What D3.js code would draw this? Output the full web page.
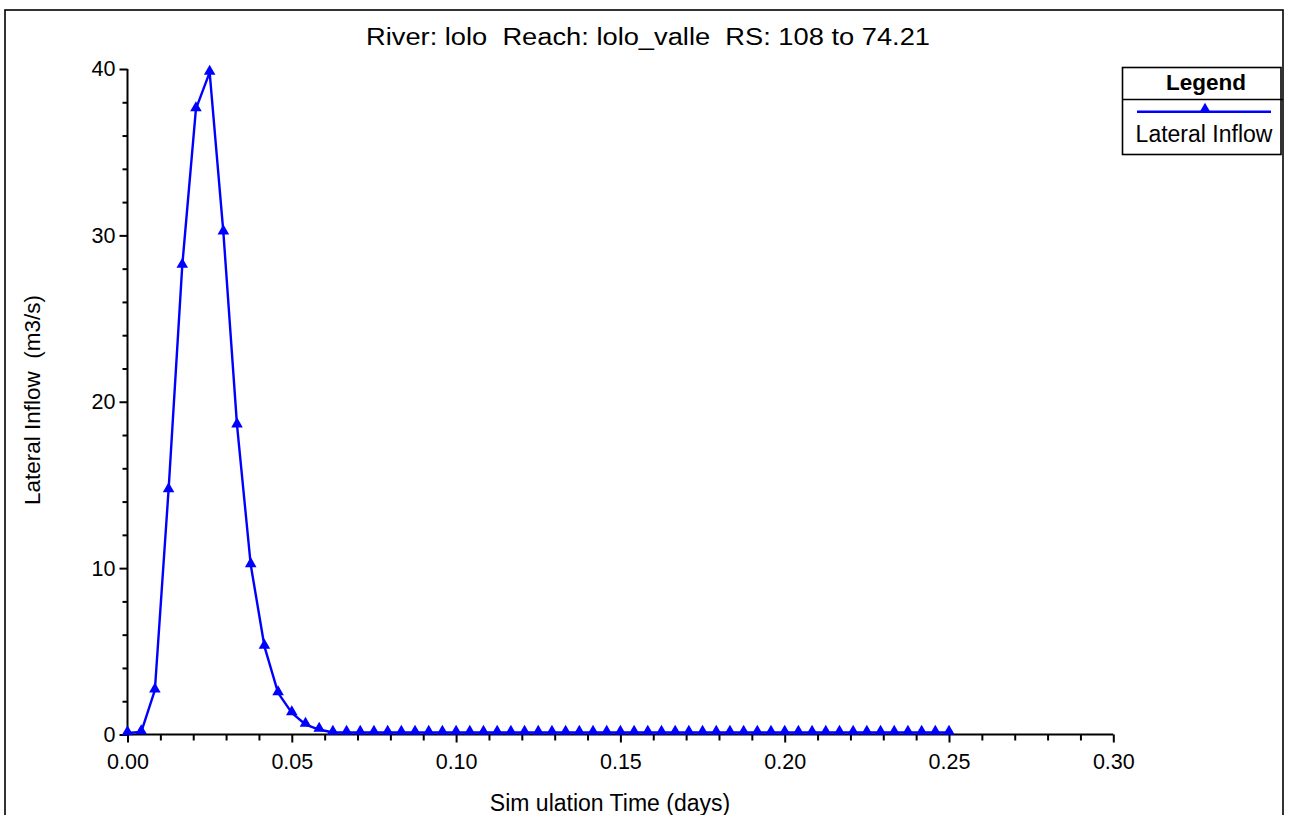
<!DOCTYPE html>
<html>
<head>
<meta charset="utf-8">
<script src="https://cdn.jsdelivr.net/npm/d3@7"></script>
<style>
  html, body { margin: 0; padding: 0; background: #ffffff; }
  svg { display: block; font-family: "Liberation Sans", Arial, sans-serif; }
  svg text { white-space: pre; }
</style>
</head>
<body>
<svg id="chart" width="1290" height="815"></svg>
<script>
// Simulation time (days), 6-minute output interval
const timeDays = [
  0, 0.00417, 0.00833, 0.0125, 0.01667, 0.02083, 0.025, 0.02917, 0.03333, 0.0375,
  0.04167, 0.04583, 0.05, 0.05417, 0.05833, 0.0625, 0.06667, 0.07083, 0.075, 0.07917,
  0.08333, 0.0875, 0.09167, 0.09583, 0.1, 0.10417, 0.10833, 0.1125, 0.11667, 0.12083,
  0.125, 0.12917, 0.13333, 0.1375, 0.14167, 0.14583, 0.15, 0.15417, 0.15833, 0.1625,
  0.16667, 0.17083, 0.175, 0.17917, 0.18333, 0.1875, 0.19167, 0.19583, 0.2, 0.20417,
  0.20833, 0.2125, 0.21667, 0.22083, 0.225, 0.22917, 0.23333, 0.2375, 0.24167, 0.24583,
  0.25
];

// Lateral inflow (m3/s)
const lateralInflow = [
  0.10, 0.15, 2.67, 14.7, 28.2, 37.6, 39.8, 30.2, 18.6, 10.2,
  5.3, 2.5, 1.3, 0.6, 0.3, 0.12, 0.12, 0.12, 0.12, 0.12,
  0.12, 0.12, 0.12, 0.12, 0.12, 0.12, 0.12, 0.12, 0.12, 0.12,
  0.12, 0.12, 0.12, 0.12, 0.12, 0.12, 0.12, 0.12, 0.12, 0.12,
  0.12, 0.12, 0.12, 0.12, 0.12, 0.12, 0.12, 0.12, 0.12, 0.12,
  0.12, 0.12, 0.12, 0.12, 0.12, 0.12, 0.12, 0.12, 0.12, 0.12,
  0.12
];

const xMajorTicks = [0, 0.05, 0.10, 0.15, 0.20, 0.25, 0.30];
const xTickLabels = ["0.00", "0.05", "0.10", "0.15", "0.20", "0.25", "0.30"];
const yMajorTicks = [0, 10, 20, 30, 40];
const yTickLabels = ["0", "10", "20", "30", "40"];

const titleText = "River: lolo  Reach: lolo_valle  RS: 108 to 74.21";
const xTitle = "Sim ulation Time (days)";
const yTitle = "Lateral Inflow  (m3/s)";
const seriesName = "Lateral Inflow";

const blue = "#0000ff";
const svg = d3.select("#chart");

const plot = { left: 127.5, right: 1113.3, top: 69, bottom: 734.5 };

const x = d3.scaleLinear().domain([0, 0.30]).range([plot.left, plot.right]);
const y = d3.scaleLinear().domain([0, 40]).range([plot.bottom, plot.top]);

// outer frame
svg.append("rect")
  .attr("x", 5).attr("y", 10).attr("width", 1278).attr("height", 830)
  .attr("fill", "none").attr("stroke", "#000").attr("stroke-width", 1.6);

// title
svg.append("text")
  .attr("x", 366).attr("y", 45)
  .attr("font-size", 23)
  .attr("textLength", 564)
  .attr("lengthAdjust", "spacingAndGlyphs")
  .text(titleText);

// minor ticks
const xMinor = d3.range(0, 31).map(i => i / 100).filter(v => Math.round(v * 100) % 5 !== 0);
const yMinor = d3.range(0, 41, 2).filter(v => v % 10 !== 0);

const xAxisMinor = svg.append("g")
  .attr("transform", `translate(0,${plot.bottom})`)
  .call(d3.axisBottom(x).tickValues(xMinor).tickSize(6).tickFormat(""));
const xAxis = svg.append("g")
  .attr("transform", `translate(0,${plot.bottom})`)
  .call(d3.axisBottom(x).tickValues(xMajorTicks).tickSize(8).tickPadding(11)
    .tickFormat((d, i) => xTickLabels[i]));

const yAxisMinor = svg.append("g")
  .attr("transform", `translate(${plot.left},0)`)
  .call(d3.axisLeft(y).tickValues(yMinor).tickSize(5).tickFormat(""));
const yAxis = svg.append("g")
  .attr("transform", `translate(${plot.left},0)`)
  .call(d3.axisLeft(y).tickValues(yMajorTicks).tickSize(8).tickPadding(4)
    .tickFormat((d, i) => yTickLabels[i]));

[xAxisMinor, xAxis, yAxisMinor, yAxis].forEach(g => {
  g.select(".domain").attr("stroke", "#000").attr("stroke-width", 2);
  g.selectAll(".tick line").attr("stroke", "#000").attr("stroke-width", 2);
  g.selectAll(".tick text").attr("fill", "#000").attr("font-size", 21.5)
    .attr("font-family", "Liberation Sans, Arial, sans-serif");
});
xAxisMinor.select(".domain").remove();
yAxisMinor.select(".domain").remove();
xAxis.select(".domain").attr("d", `M${plot.left},0H${plot.right}`);
yAxis.select(".domain").attr("d", `M0,${plot.bottom}V${plot.top}`);

// axis titles
svg.append("text")
  .attr("x", 610).attr("y", 811)
  .attr("text-anchor", "middle")
  .attr("font-size", 23)
  .text(xTitle);

svg.append("text")
  .attr("transform", "translate(40,400) rotate(-90)")
  .attr("text-anchor", "middle")
  .attr("font-size", 22.5)
  .text(yTitle);

// series
const data = timeDays.map((t, i) => ({ t, q: lateralInflow[i] }));

svg.append("path")
  .datum(data)
  .attr("fill", "none")
  .attr("stroke", blue)
  .attr("stroke-width", 2.4)
  .attr("stroke-linejoin", "round")
  .attr("d", d3.line().x(d => x(d.t)).y(d => y(d.q)));

const tri = d3.symbol().type(d3.symbolTriangle).size(58);

svg.append("g").selectAll("path")
  .data(data)
  .join("path")
  .attr("d", tri)
  .attr("transform", d => `translate(${x(d.t)},${y(d.q) - 1})`)
  .attr("fill", blue);

// legend
const lg = svg.append("g");
lg.append("rect")
  .attr("x", 1122.5).attr("y", 67.5).attr("width", 158.5).attr("height", 87)
  .attr("fill", "#fff").attr("stroke", "#000").attr("stroke-width", 1.6);
lg.append("line")
  .attr("x1", 1122.5).attr("x2", 1283).attr("y1", 99.5).attr("y2", 99.5)
  .attr("stroke", "#000").attr("stroke-width", 1.6);
lg.append("text")
  .attr("x", 1206).attr("y", 90)
  .attr("text-anchor", "middle")
  .attr("font-size", 22.5).attr("font-weight", "bold")
  .text("Legend");
lg.append("line")
  .attr("x1", 1137).attr("x2", 1271).attr("y1", 111.7).attr("y2", 111.7)
  .attr("stroke", blue).attr("stroke-width", 2.4);
lg.append("path")
  .attr("d", tri)
  .attr("transform", "translate(1205,109.5)")
  .attr("fill", blue);
lg.append("text")
  .attr("x", 1204).attr("y", 142)
  .attr("text-anchor", "middle")
  .attr("font-size", 23)
  .text(seriesName);
</script>
</body>
</html>
